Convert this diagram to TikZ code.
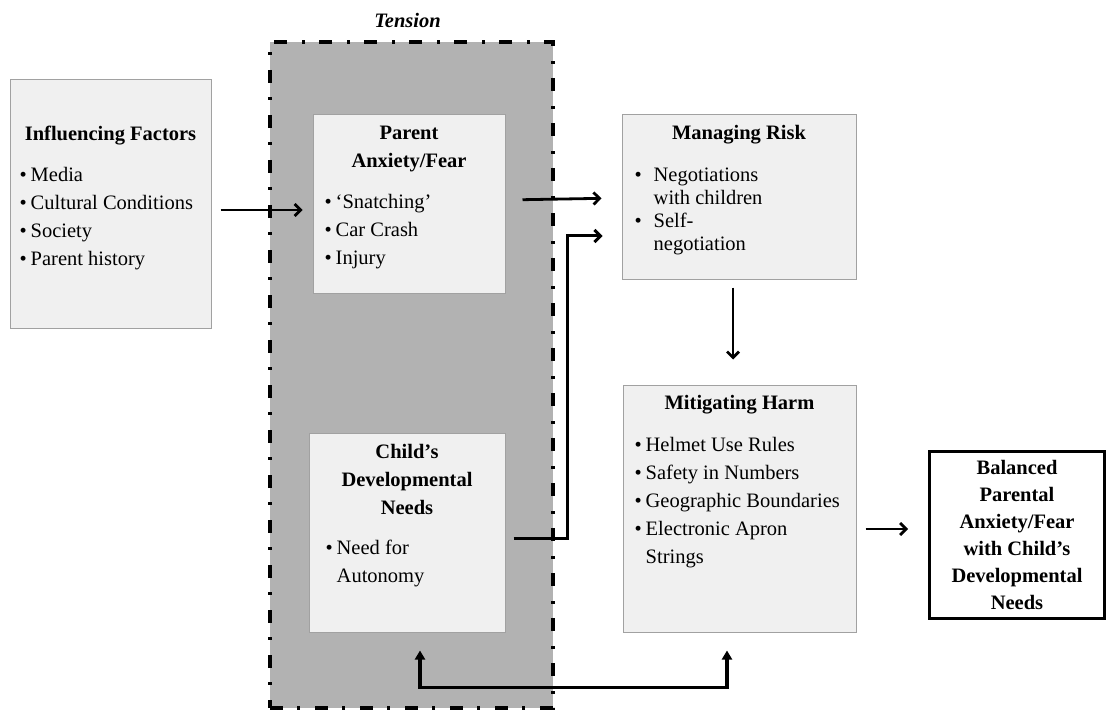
\documentclass[tikz,border=0pt]{standalone}
\usepackage{fontspec}
\setmainfont{Liberation Serif}
\usetikzlibrary{arrows.meta, positioning}
\definecolor{panelbg}{rgb}{0.94,0.94,0.94}
\definecolor{panelline}{rgb}{0.63,0.63,0.63}
\definecolor{tensionbg}{rgb}{0.70,0.70,0.70}
\newcommand{\bul}[1][11pt]{\makebox[#1][l]{\textbullet}}

\begin{document}
\begin{tikzpicture}[x=1pt, y=-1pt,
    panel/.style={rectangle, draw=panelline, fill=panelbg, line width=1pt, inner sep=0pt},
    head/.style={anchor=north, align=center, inner sep=0pt, font=\fontsize{20.5}{28}\selectfont\bfseries},
    items/.style={anchor=north west, align=left, inner sep=0pt, font=\fontsize{20.5}{28}\selectfont},
    arrow/.style={-{Straight Barb[length=6pt, width=12pt]}, line width=2.8pt},
    backarrow/.style={{Triangle[length=9pt, width=10pt]}-{Triangle[length=9pt, width=10pt]}, line width=3.2pt}
]
\useasboundingbox (0,0) rectangle (1107,711);

% tension zone
\node[draw, fill=tensionbg, line width=4.5pt, dash pattern=on 13pt off 14pt on 3pt off 15pt,
      minimum width=283pt, minimum height=666pt, inner sep=0pt] (tension) at (411.5,375) {};
\node[anchor=base, inner sep=0pt, font=\fontsize{20.5}{28}\selectfont\bfseries\itshape] (tensionT)
      at ([xshift=-4pt, yshift=12pt]tension.north) {Tension};

% influencing factors
\node[panel, minimum width=201pt, minimum height=248pt] (factors) at (110.5,204) {};
\node[head] (factorsT) at ([yshift=-46pt]factors.north) {Influencing Factors};
\node[items] (factorsL) at ([xshift=10pt, yshift=-88pt]factors.north west)
      {\bul Media\\\bul Cultural Conditions\\\bul Society\\\bul Parent history};

% parent
\node[panel, minimum width=192pt, minimum height=178pt] (parent) at (409,204) {};
\node[head] (parentT) at ([yshift=-11pt]parent.north) {Parent\\Anxiety/Fear};
\node[items] (parentL) at ([xshift=12pt, yshift=-80pt]parent.north west)
      {\bul ‘Snatching’\\\bul Car Crash\\\bul Injury};

% child
\node[panel, minimum width=196pt, minimum height=199pt] (child) at (407,532.5) {};
\node[head] (childT) at ([yshift=-12pt]child.north) {Child’s\\Developmental\\Needs};
\node[items] (childL) at ([xshift=17pt, yshift=-107pt]child.north west)
      {\bul Need for\\\hspace*{11pt}Autonomy};

% managing risk
\node[panel, minimum width=234pt, minimum height=164pt] (risk) at (739,197) {};
\node[head] (riskT) at ([yshift=-11pt]risk.north) {Managing Risk};
\node[items, font=\fontsize{20.5}{23}\selectfont] (riskL) at ([xshift=13pt, yshift=-53pt]risk.north west)
      {\bul[19pt]Negotiations\\\hspace*{19pt}with children\\\bul[19pt]Self-\\\hspace*{19pt}negotiation};

% mitigating harm
\node[panel, minimum width=233pt, minimum height=247pt] (harm) at (739.5,508.5) {};
\node[head] (harmT) at ([yshift=-11pt]harm.north) {Mitigating Harm};
\node[items] (harmL) at ([xshift=12pt, yshift=-53pt]harm.north west)
      {\bul Helmet Use Rules\\\bul Safety in Numbers\\\bul Geographic Boundaries\\\bul Electronic Apron\\\hspace*{11pt}Strings};

% outcome
\node[draw, line width=3pt, minimum width=175pt, minimum height=167pt, align=center,
      font=\fontsize{20.5}{27}\selectfont\bfseries] (balance) at (1017,535)
      {Balanced\\Parental\\Anxiety/Fear\\with Child’s\\Developmental\\Needs};

\draw[arrow, shorten <=9pt, shorten >=10pt] ([yshift=-6pt]factors.east) -- ([yshift=-6pt]parent.west);
\draw[arrow, shorten <=17pt, shorten >=20pt] ([yshift=4pt]parent.east) -- ([yshift=-1pt]risk.west);
\draw[arrow, line width=3pt] ([xshift=8pt, yshift=-5.5pt]child.east) -| ([xshift=-54pt, yshift=-39pt]risk.west)
      -- ([xshift=-19pt, yshift=-39pt]risk.west);
\draw[arrow] ([xshift=-6pt, yshift=-8pt]risk.south) -- ([xshift=-6.5pt, yshift=25pt]harm.north);
\draw[arrow] ([xshift=9pt, yshift=-20.5pt]harm.east) -- ([xshift=-20pt, yshift=6pt]balance.west);
\draw[backarrow] ([xshift=13pt, yshift=-18pt]child.south) |- ([xshift=-12.5pt, yshift=-55pt]harm.south)
      -- ([xshift=-12.5pt, yshift=-18pt]harm.south);

\end{tikzpicture}
\end{document}
